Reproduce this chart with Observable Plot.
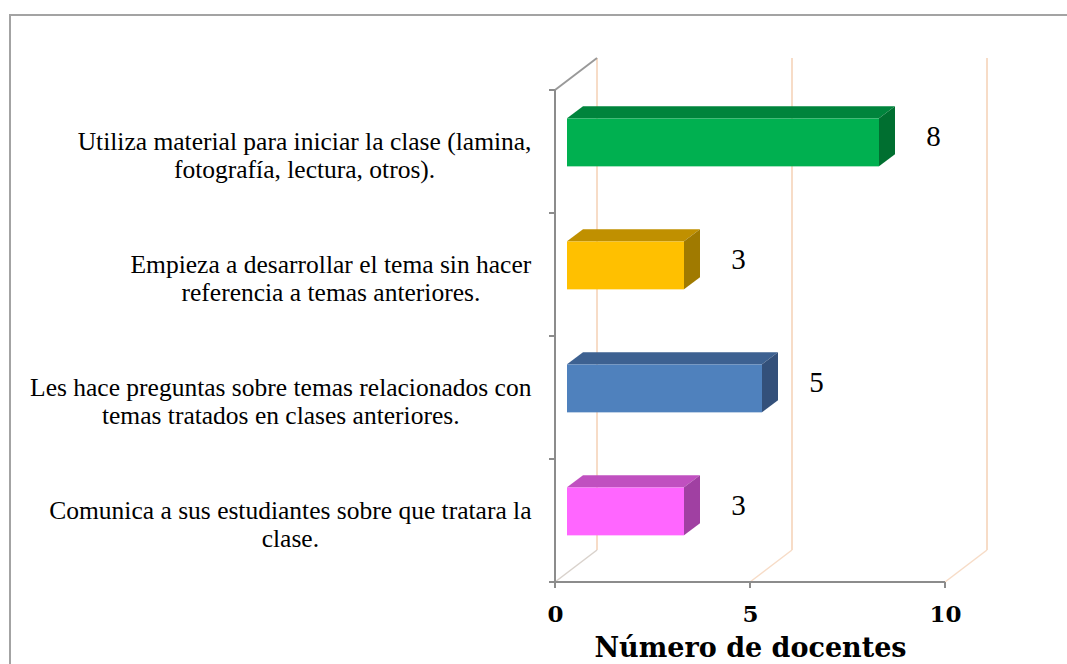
<!DOCTYPE html>
<html>
<head>
<meta charset="utf-8">
<script src="https://cdn.jsdelivr.net/npm/d3@7"></script>
<script src="https://cdn.jsdelivr.net/npm/@observablehq/plot@0.6"></script>
<style>
  body { margin: 0; background: #fff; }
  #chart { width: 1067px; height: 664px; overflow: hidden; }
</style>
</head>
<body>
<div id="chart"></div>
<script>
// ---- data ----
const categories = [
  "Utiliza material para iniciar la clase (lamina,\nfotografía, lectura, otros).",
  "Empieza a desarrollar el tema sin hacer\nreferencia a temas anteriores.",
  "Les hace preguntas sobre temas relacionados con\ntemas tratados en clases anteriores.",
  "Comunica a sus estudiantes sobre que tratara la\nclase."
];
const values = [8, 3, 5, 3];
const frontColors = ["#00b050", "#ffc000", "#4f81bd", "#ff66ff"];
const topColors = ["#00843c", "#c09000", "#3d6191", "#c050c0"];
const sideColors = ["#006f30", "#a07a00", "#33507a", "#a040a2"];
const xTicks = [0, 5, 10];
const xLabel = "Número de docentes";

const data = categories.map((c, i) => ({
  category: c, value: values[i], front: frontColors[i], top: topColors[i], side: sideColors[i]
}));

// ---- 3D styling constants ----
const DX = 42, DY = -32;          // full depth offset of back wall
const NEAR = 12 / 42, FAR = 28 / 42; // bar depth fraction
const INSET = 37.5;
const TAN = "#f7dcc7";
const GRAY = "#8c8c8c";

function backdrop(index, scales, values, dims) {
  const {x} = scales;
  const g = d3.create("svg:g");
  const y0 = dims.marginTop, y1 = dims.height - dims.marginBottom;
  g.append("rect").attr("x", 10).attr("y", 15)
    .attr("width", dims.width + 20).attr("height", dims.height + 20)
    .attr("fill", "none").attr("stroke", "#a3a3a3").attr("stroke-width", 2);
  for (const t of xTicks) {
    g.append("line").attr("x1", x(t) + DX).attr("x2", x(t) + DX)
      .attr("y1", y0 + DY).attr("y2", y1 + DY)
      .attr("stroke", TAN).attr("stroke-width", 2);
    g.append("line").attr("x1", x(t)).attr("x2", x(t) + DX)
      .attr("y1", y1).attr("y2", y1 + DY)
      .attr("stroke", t === 0 ? "#d9d2cc" : TAN).attr("stroke-width", 1.5);
  }
  g.append("line").attr("x1", x(0)).attr("x2", x(0) + DX)
    .attr("y1", y0).attr("y2", y0 + DY)
    .attr("stroke", "#999").attr("stroke-width", 2);
  return g.node();
}

function faces(index, scales, values, dims) {
  const {x, y} = scales;
  const bw = y.bandwidth();
  const g = d3.create("svg:g");
  const nx = DX * NEAR, ny = DY * NEAR, fx = DX * FAR, fy = DY * FAR;
  for (const d of data) {
    const xs = x(0), xv = x(d.value);
    const yt = y(d.category) + INSET, yb = y(d.category) + bw - INSET;
    g.append("polygon")
      .attr("points", [[xs + nx, yt + ny], [xs + fx, yt + fy], [xv + fx, yt + fy], [xv + nx, yt + ny]].map(p => p.join(",")).join(" "))
      .attr("fill", d.top);
    g.append("polygon")
      .attr("points", [[xv + nx, yt + ny], [xv + fx, yt + fy], [xv + fx, yb + fy], [xv + nx, yb + ny]].map(p => p.join(",")).join(" "))
      .attr("fill", d.side);
  }
  return g.node();
}

function axes(index, scales, values, dims) {
  const {x, y} = scales;
  const g = d3.create("svg:g").attr("stroke", GRAY).attr("stroke-width", 2);
  const y0 = dims.marginTop, y1 = dims.height - dims.marginBottom;
  g.append("line").attr("x1", x(0)).attr("x2", x(0)).attr("y1", y0).attr("y2", y1);
  const bounds = categories.map(c => y(c)).concat([y1]);
  for (const b of bounds) {
    g.append("line").attr("x1", x(0) - 6).attr("x2", x(0)).attr("y1", b).attr("y2", b);
  }
  g.append("line").attr("x1", x(0)).attr("x2", x(10)).attr("y1", y1).attr("y2", y1);
  for (const t of xTicks) {
    g.append("line").attr("x1", x(t)).attr("x2", x(t)).attr("y1", y1).attr("y2", y1 + 6);
  }
  return g.node();
}

const svg = Plot.plot({
  width: 1067,
  height: 664,
  marginLeft: 555,
  marginRight: 122,
  marginTop: 90,
  marginBottom: 82,
  x: {domain: [0, 10], axis: null},
  y: {domain: categories, axis: null, padding: 0},
  color: {type: "identity"},
  style: {background: "#fff", overflow: "visible"},
  marks: [
    backdrop,
    Plot.rectX(data, {x1: 0, x2: "value", y: "category", fill: "front",
      insetTop: INSET, insetBottom: INSET, dx: DX * NEAR, dy: DY * NEAR}),
    faces,
    axes,
    Plot.text(data, {y: "category", text: "category", frameAnchor: "left",
      textAnchor: "end", dx: -24, dy: 3, fontSize: 25.5, lineHeight: 1.1,
      fontFamily: "Liberation Serif", fill: "#000"}),
    Plot.text(data, {x: "value", y: "category", text: d => String(d.value),
      dx: 66, dy: -15, fontSize: 29, fontFamily: "Liberation Serif", fill: "#000"}),
    Plot.text(xTicks, {x: d => d, text: d => String(d), frameAnchor: "bottom", dy: 39,
      fontSize: 23, fontWeight: "bold", fontFamily: "DejaVu Serif", fill: "#000"}),
    Plot.text([xLabel], {text: d => d, frameAnchor: "bottom", dy: 74,
      fontSize: 27, fontWeight: "bold", fontFamily: "DejaVu Serif", fill: "#000"})
  ]
});

document.getElementById("chart").append(svg);

// center each line within its label block (Excel-style wrapped labels)
svg.querySelectorAll("text").forEach(t => {
  if (t.querySelectorAll("tspan").length > 1) {
    const w = t.getBBox().width;
    t.setAttribute("text-anchor", "middle");
    const tr = t.getAttribute("transform") || "";
    t.setAttribute("transform", tr + ` translate(${-w / 2},0)`);
  }
});
</script>
</body>
</html>
